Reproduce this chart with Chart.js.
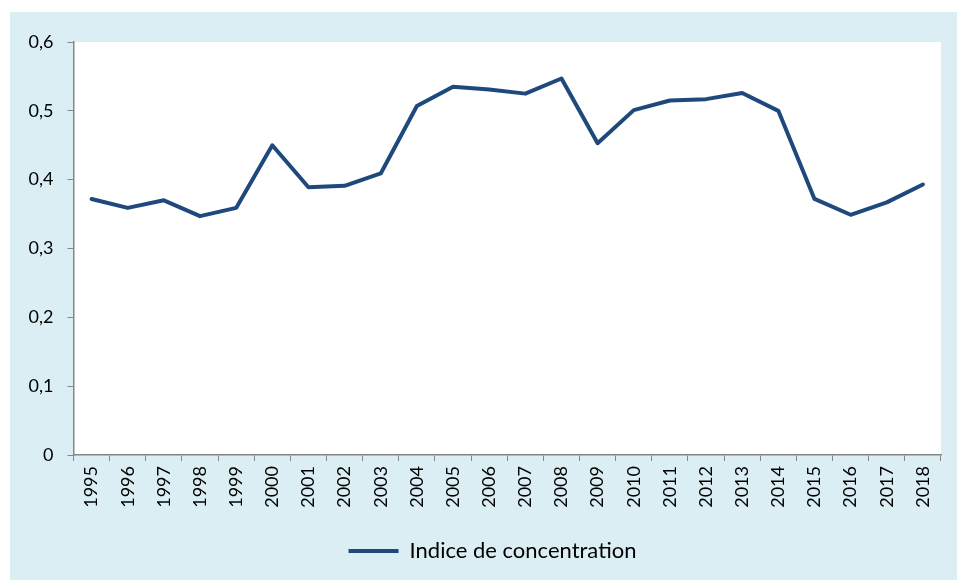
<!DOCTYPE html>
<html>
<head>
<meta charset="utf-8">
<script src="https://cdn.jsdelivr.net/npm/chart.js@4/dist/chart.umd.min.js"></script>
<style>
  html, body { margin: 0; padding: 0; background: #fff; }
  #wrap { width: 957px; height: 580px; }
</style>
</head>
<body>
<div id="wrap"><canvas id="chartConc" width="957" height="580"></canvas></div>
<script>
// ── Data ─────────────────────────────────────────────────────────────────────
const YEARS = ['1995','1996','1997','1998','1999','2000','2001','2002','2003','2004','2005','2006',
               '2007','2008','2009','2010','2011','2012','2013','2014','2015','2016','2017','2018'];
const CONCENTRATION = [0.372, 0.359, 0.370, 0.347, 0.359, 0.450, 0.389, 0.391, 0.409, 0.507, 0.535, 0.531,
                       0.525, 0.547, 0.453, 0.501, 0.515, 0.517, 0.526, 0.500, 0.372, 0.349, 0.367, 0.393];
const SERIES_LABEL = 'Indice de concentration';
const Y_MIN = 0, Y_MAX = 0.6, Y_STEP = 0.1;

const LINE_COLOR = '#1F497D';
const AXIS_COLOR = '#868686';
const FONT = 'Lato';

// background: light blue panel + white plot area
const panelBg = {
  id: 'panelBg',
  afterLayout(chart) {
    // legend sits a bit right of the canvas centre in the original
    chart.legend.left += 17;
    chart.legend.right += 17;
  },
  beforeDraw(chart) {
    const { ctx, chartArea: a } = chart;
    ctx.save();
    ctx.fillStyle = '#DAEEF3';
    ctx.fillRect(10, 12, chart.width - 10, chart.height - 12);
    ctx.fillStyle = '#ffffff';
    ctx.fillRect(a.left, a.top, a.right - a.left, a.bottom - a.top);
    ctx.restore();
  },
};

new Chart(document.getElementById('chartConc'), {
  type: 'line',
  data: {
    labels: YEARS,
    datasets: [{
      label: SERIES_LABEL,
      data: CONCENTRATION,
      borderColor: LINE_COLOR,
      backgroundColor: LINE_COLOR,
      borderWidth: 4,
      pointRadius: 0,
      tension: 0,
      borderJoinStyle: 'round',
      borderCapStyle: 'round',
    }],
  },
  options: {
    responsive: false,
    animation: false,
    layout: { padding: { left: 10, top: 42, right: 16, bottom: 8 } },
    plugins: {
      legend: {
        position: 'bottom',
        labels: {
          color: '#000', font: { family: FONT, size: 22 },
          usePointStyle: true, pointStyle: 'line', pointStyleWidth: 50, padding: 10,
        },
      },
      tooltip: { enabled: false },
    },
    scales: {
      x: {
        offset: true,
        grid: { display: true, drawOnChartArea: false, drawTicks: true, tickLength: 6, color: AXIS_COLOR, offset: true },
        border: { display: true, color: AXIS_COLOR, width: 1.5 },
        ticks: { color: '#000', font: { family: FONT, size: 18 }, minRotation: 90, maxRotation: 90, padding: 5, autoSkip: false },
        afterFit: s => { s.height = 75; },
      },
      y: {
        min: Y_MIN, max: Y_MAX,
        grid: { display: true, drawOnChartArea: false, drawTicks: true, tickLength: 6, color: AXIS_COLOR },
        border: { display: true, color: AXIS_COLOR, width: 1.5 },
        ticks: {
          stepSize: Y_STEP, color: '#000', font: { family: FONT, size: 18 }, padding: 14,
          callback: v => (Math.round(v * 10) / 10).toString().replace('.', ','),
        },
        afterFit: s => { s.width = 63.5; },
      },
    },
  },
  plugins: [panelBg],
});
</script>
</body>
</html>
